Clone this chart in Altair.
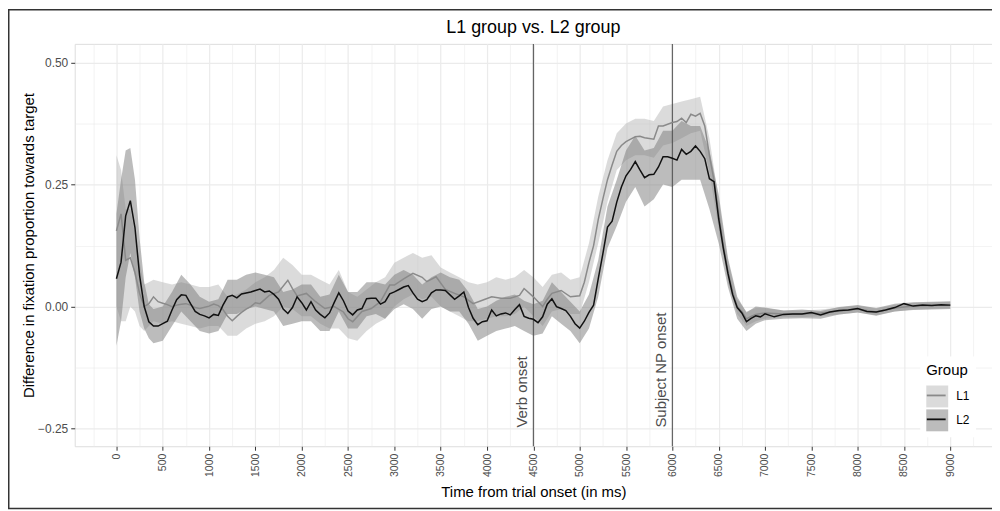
import altair as alt
import pandas as pd

TITLE = "L1 group vs. L2 group"
X_TITLE = "Time from trial onset (in ms)"
Y_TITLE = "Difference in fixation proportion towards target"
LEGEND_TITLE = "Group"
GROUPS = ["L1", "L2"]

ONSET_MS = [4500, 6000]
ONSET_LABELS = ["Verb onset", "Subject NP onset"]
ONSET_LABEL_Y = -0.25

X_DOMAIN = [-450, 9450]
Y_DOMAIN = [-0.2861, 0.5382]
X_TICKS = [-250, 0, 250, 500, 750, 1000, 1250, 1500, 1750, 2000, 2250, 2500, 2750, 3000,
           3250, 3500, 3750, 4000, 4250, 4500, 4750, 5000, 5250, 5500, 5750, 6000, 6250,
           6500, 6750, 7000, 7250, 7500, 7750, 8000, 8250, 8500, 8750, 9000, 9250]
Y_TICKS = [-0.25, -0.125, 0.0, 0.125, 0.25, 0.375, 0.5]

# ---- L2 mean (black line) ----
L2_T = [0, 50, 100, 150, 200, 250, 300, 350, 400, 450, 500, 550, 600, 650, 700, 750, 800, 850,
        900, 950, 1000, 1050, 1100, 1150, 1200, 1250, 1300, 1350, 1400, 1450, 1500, 1550, 1600,
        1650, 1700, 1750, 1800, 1850, 1900, 1950, 2000, 2050, 2100, 2150, 2200, 2250, 2300, 2350,
        2400, 2450, 2500, 2550, 2600, 2650, 2700, 2750, 2800, 2850, 2900, 2950, 3000, 3050, 3100,
        3150, 3200, 3250, 3300, 3350, 3400, 3450, 3500, 3550, 3600, 3650, 3700, 3750, 3800, 3850,
        3900, 3950, 4000, 4050, 4100, 4150, 4200, 4250, 4300, 4350, 4400, 4450, 4500, 4550, 4600,
        4650, 4700, 4750, 4800, 4850, 4900, 4950, 5000, 5050, 5100, 5150, 5200, 5250, 5300, 5350,
        5400, 5450, 5500, 5550, 5600, 5650, 5700, 5750, 5800, 5850, 5900, 5950, 6000, 6050, 6100,
        6150, 6200, 6250, 6300, 6350, 6400, 6450, 6500, 6550, 6600, 6650, 6700, 6750, 6800, 6850,
        6900, 6950, 7000, 7100, 7200, 7300, 7400, 7500, 7600, 7700, 7800, 7900, 8000, 8100, 8200,
        8300, 8400, 8500, 8600, 8700, 8800, 8900, 9000]
L2_Y = [0.057, 0.091, 0.186, 0.217, 0.162, 0.064, 0.0, -0.031, -0.04, -0.04, -0.035, -0.03, -0.007,
        0.014, 0.024, 0.023, 0.006, -0.01, -0.016, -0.019, -0.023, -0.016, -0.018, 0.003, 0.02,
        0.023, 0.018, 0.026, 0.028, 0.03, 0.033, 0.036, 0.03, 0.032, 0.025, 0.015, -0.005, -0.014,
        -0.002, 0.02, 0.008, -0.007, 0.01, -0.007, -0.016, -0.023, -0.013, 0.008, 0.028, 0.012,
        -0.009, -0.017, -0.007, -0.004, 0.016, 0.017, 0.017, 0.005, 0.01, 0.026, 0.03, 0.035, 0.04,
        0.043, 0.028, 0.015, 0.01, 0.014, 0.028, 0.034, 0.034, 0.033, 0.024, 0.015, 0.022, 0.03,
        -0.002, -0.024, -0.037, -0.031, -0.029, -0.007, -0.019, -0.015, -0.013, -0.017, -0.006,
        0.004, -0.02, -0.024, -0.026, -0.033, -0.021, 0.005, 0.016, 0.0, -0.004, -0.008, -0.02,
        -0.035, -0.044, -0.03, -0.012, 0.003, 0.057, 0.108, 0.163, 0.175, 0.214, 0.245, 0.268,
        0.281, 0.297, 0.28, 0.264, 0.27, 0.271, 0.286, 0.307, 0.307, 0.304, 0.3, 0.322, 0.312,
        0.318, 0.329, 0.318, 0.303, 0.262, 0.256, 0.18, 0.12, 0.068, 0.025, -0.002, -0.013, -0.031,
        -0.024, -0.019, -0.021, -0.015, -0.021, -0.016, -0.015, -0.015, -0.012, -0.017, -0.011,
        -0.008, -0.007, -0.004, -0.01, -0.011, -0.007, -0.002, 0.006, 0.001, 0.003, 0.002, 0.004,
        0.003]

# ---- L1 mean (grey line) ----
L1_T = [0, 50, 100, 150, 200, 250, 300, 350, 400, 450, 500, 550, 600, 650, 700, 750, 800, 850,
        900, 1000, 1050, 1100, 1150, 1200, 1250, 1300, 1350, 1400, 1450, 1500, 1550, 1650, 1750,
        1850, 1900, 1950, 2050, 2150, 2250, 2350, 2450, 2500, 2550, 2650, 2750, 2850, 2950, 3000,
        3100, 3200, 3300, 3350, 3450, 3550, 3650, 3750, 3850, 3950, 4050, 4150, 4250, 4350, 4400,
        4500, 4600, 4650, 4700, 4800, 4900, 5000, 5050, 5100, 5150, 5200, 5250, 5300, 5350, 5400,
        5450, 5500, 5550, 5600, 5650, 5700, 5800, 5850, 5900, 6000, 6050, 6100, 6150, 6200, 6250,
        6300, 6350, 6400, 6450, 6500, 6550, 6600, 6650, 6700, 6750, 6800, 6850, 6900, 7000, 7200,
        7400, 7600, 7800, 8000, 8200, 8400, 8600, 8800, 9000]
L1_Y = [0.155, 0.19, 0.095, 0.1, 0.07, 0.027, 0.0, 0.006, 0.02, 0.01, 0.007, 0.004, 0.0, 0.003,
        0.005, 0.006, 0.003, -0.002, -0.004, 0.001, 0.005, 0.002, -0.006, -0.02, -0.029, -0.02,
        -0.012, -0.005, 0.0, 0.008, 0.006, 0.023, 0.03, 0.054, 0.037, 0.022, 0.027, 0.01, -0.004,
        0.0, -0.011, -0.025, -0.031, -0.01, -0.004, 0.01, 0.044, 0.044, 0.057, 0.068, 0.06, 0.051,
        0.061, 0.035, 0.027, 0.02, 0.006, 0.013, 0.02, 0.017, 0.017, 0.023, 0.037, 0.02, 0.0,
        0.015, 0.027, 0.033, 0.02, 0.022, 0.05, 0.09, 0.125, 0.178, 0.22, 0.26, 0.29, 0.318, 0.33,
        0.338, 0.343, 0.348, 0.349, 0.346, 0.343, 0.37, 0.37, 0.377, 0.379, 0.386, 0.377, 0.394,
        0.39, 0.396, 0.37, 0.31, 0.258, 0.19, 0.125, 0.072, 0.03, 0.0, -0.01, -0.025, -0.02,
        -0.016, -0.013, -0.015, -0.015, -0.013, -0.009, -0.005, -0.011, -0.003, 0.001, 0.002,
        0.003]

# ---- confidence ribbons ----
BAND_T = [0, 50, 100, 150, 200, 250, 300, 350, 400, 500, 600, 700, 800, 900, 1000, 1100, 1200,
          1300, 1400, 1500, 1600, 1700, 1800, 1900, 2000, 2100, 2200, 2300, 2400, 2500, 2600,
          2700, 2800, 2900, 3000, 3100, 3200, 3300, 3400, 3500, 3600, 3700, 3800, 3900, 4000,
          4100, 4200, 4300, 4400, 4500, 4600, 4700, 4800, 4900, 5000, 5100, 5200, 5300, 5400,
          5500, 5600, 5700, 5800, 5900, 6000, 6100, 6200, 6300, 6400, 6500, 6600, 6700, 6800,
          6900, 7000, 7200, 7400, 7600, 7800, 8000, 8200, 8400, 8600, 8800, 9000]
L1_LO = [0.0, -0.03, -0.03, 0.0, -0.01, -0.04, -0.05, -0.04, -0.03, -0.035, -0.03, -0.035, -0.04,
         -0.045, -0.04, -0.04, -0.06, -0.06, -0.045, -0.035, -0.03, -0.02, 0.0, -0.005, -0.02,
         -0.02, -0.035, -0.045, -0.045, -0.065, -0.07, -0.05, -0.035, -0.025, 0.0, 0.015, 0.025,
         0.015, 0.02, 0.0, -0.01, -0.02, -0.03, -0.03, -0.025, -0.02, -0.02, -0.015, 0.0, -0.02,
         -0.04, -0.01, -0.005, -0.015, -0.015, 0.05, 0.13, 0.215, 0.28, 0.3, 0.31, 0.31, 0.305,
         0.33, 0.335, 0.345, 0.355, 0.36, 0.275, 0.16, 0.05, -0.015, -0.04, -0.03, -0.025,
         -0.022, -0.022, -0.02, -0.016, -0.012, -0.018, -0.01, -0.006, -0.005, -0.004]
L1_HI = [0.31, 0.28, 0.2, 0.2, 0.15, 0.09, 0.045, 0.05, 0.055, 0.05, 0.045, 0.05, 0.045, 0.04,
         0.04, 0.045, 0.02, 0.025, 0.035, 0.05, 0.06, 0.075, 0.1, 0.085, 0.065, 0.065, 0.055,
         0.045, 0.075, 0.03, 0.02, 0.035, 0.05, 0.06, 0.09, 0.1, 0.11, 0.1, 0.105, 0.08, 0.07,
         0.06, 0.05, 0.045, 0.05, 0.06, 0.055, 0.06, 0.075, 0.06, 0.04, 0.065, 0.07, 0.055, 0.06,
         0.13, 0.225, 0.3, 0.355, 0.375, 0.385, 0.385, 0.38, 0.41, 0.415, 0.42, 0.425, 0.43,
         0.345, 0.22, 0.095, 0.015, -0.01, -0.003, -0.003, -0.008, -0.008, -0.006, -0.002, 0.002,
         -0.004, 0.004, 0.008, 0.009, 0.01]
L2_LO = [-0.08, -0.03, 0.06, 0.11, 0.06, -0.01, -0.045, -0.065, -0.075, -0.07, -0.04, -0.01,
         -0.03, -0.05, -0.055, -0.05, -0.015, -0.015, -0.005, 0.0, -0.005, -0.01, -0.04, -0.035,
         -0.03, -0.03, -0.05, -0.05, -0.01, -0.045, -0.045, -0.02, -0.015, -0.025, -0.005, 0.005,
         -0.005, -0.025, -0.005, 0.0, -0.01, -0.01, -0.035, -0.07, -0.06, -0.05, -0.045, -0.04,
         -0.05, -0.06, -0.055, -0.02, -0.035, -0.05, -0.075, -0.045, 0.02, 0.12, 0.165, 0.215,
         0.245, 0.205, 0.22, 0.25, 0.245, 0.26, 0.26, 0.26, 0.2, 0.13, 0.04, -0.025, -0.05,
         -0.035, -0.028, -0.025, -0.024, -0.025, -0.016, -0.012, -0.019, -0.01, -0.007, -0.006,
         -0.005]
L2_HI = [0.19, 0.26, 0.32, 0.325, 0.26, 0.14, 0.05, 0.005, -0.005, 0.0, 0.03, 0.065, 0.045, 0.02,
         0.01, 0.015, 0.055, 0.055, 0.065, 0.07, 0.065, 0.06, 0.03, 0.035, 0.045, 0.045, 0.02,
         0.025, 0.065, 0.03, 0.03, 0.05, 0.05, 0.045, 0.065, 0.075, 0.065, 0.045, 0.06, 0.07, 0.06,
         0.055, 0.03, -0.005, 0.0, 0.012, 0.02, 0.025, 0.012, 0.005, 0.012, 0.05, 0.03, 0.01,
         -0.01, 0.025, 0.095, 0.205, 0.26, 0.32, 0.35, 0.32, 0.325, 0.36, 0.36, 0.38, 0.37, 0.37,
         0.32, 0.23, 0.1, 0.02, -0.012, 0.0, -0.002, -0.008, -0.006, -0.009, -0.001, 0.003,
         -0.003, 0.006, 0.009, 0.01, 0.011]

FONT = "Liberation Sans"

lines = pd.concat([
    pd.DataFrame({"t": L1_T, "v": L1_Y, "Group": GROUPS[0]}),
    pd.DataFrame({"t": L2_T, "v": L2_Y, "Group": GROUPS[1]}),
])
bands = pd.concat([
    pd.DataFrame({"t": BAND_T, "lo": L1_LO, "hi": L1_HI, "Band": GROUPS[0]}),
    pd.DataFrame({"t": BAND_T, "lo": L2_LO, "hi": L2_HI, "Band": GROUPS[1]}),
])
onsets = pd.DataFrame({"t": ONSET_MS, "label": ONSET_LABELS, "ly": ONSET_LABEL_Y})

major_x = "datum.value % 500 === 0"
major_y = "abs(datum.value * 4 - round(datum.value * 4)) < 0.000001"

x_scale = alt.Scale(domain=X_DOMAIN, nice=False, zero=False)
y_scale = alt.Scale(domain=Y_DOMAIN, nice=False, zero=False)

x_axis = alt.Axis(
    values=X_TICKS, format="d", labelExpr=f"{major_x} ? datum.label : ''",
    labelAngle=270, labelFontSize=10.5, labelColor="#4d4d4d", labelFont=FONT,
    labelOverlap=False, labelFlush=False, labelPadding=3,
    tickColor="#333333", tickSize=4,
    tickOpacity={"condition": {"test": major_x, "value": 1}, "value": 0},
    gridColor="#ebebeb",
    gridWidth={"condition": {"test": major_x, "value": 1.2}, "value": 0.6},
    domain=False, title=X_TITLE, titleFont=FONT, titleFontSize=15,
    titleFontWeight="normal", titleColor="#000000", titlePadding=8,
)
y_axis = alt.Axis(
    values=Y_TICKS, format=".2f", labelExpr=f"{major_y} ? datum.label : ''",
    labelFontSize=12, labelColor="#4d4d4d", labelFont=FONT, labelOverlap=False,
    labelFlush=False, labelPadding=3,
    tickColor="#333333", tickSize=4,
    tickOpacity={"condition": {"test": major_y, "value": 1}, "value": 0},
    gridColor="#ebebeb",
    gridWidth={"condition": {"test": major_y, "value": 1.2}, "value": 0.6},
    domain=False, title=Y_TITLE, titleFont=FONT, titleFontSize=15,
    titleFontWeight="normal", titleColor="#000000", titlePadding=1,
)

def X(field):
    return alt.X(f"{field}:Q", scale=x_scale, axis=x_axis)

def Y(field):
    return alt.Y(f"{field}:Q", scale=y_scale, axis=y_axis)

legend_common = dict(
    title=LEGEND_TITLE, orient="none", legendX=849, legendY=314, padding=6,
    titlePadding=8, labelOffset=8,
    titleFont=FONT, titleFontSize=15, titleFontWeight="normal", titleColor="#000000",
    labelFont=FONT, labelFontSize=12, labelColor="#000000",
)

band_layer = alt.Chart(bands).mark_area(opacity=0.5, interpolate="linear").encode(
    x=X("t"), y=Y("lo"), y2="hi:Q",
    fill=alt.Fill("Band:N", scale=alt.Scale(range=["#b8b8b8", "#7a7a7a"]),
                  legend=alt.Legend(symbolType="square", symbolSize=484, symbolOpacity=0.5,
                                    symbolStrokeWidth=0, fillColor="#ffffff", rowPadding=2,
                                    **legend_common)),
)

rule_layer = alt.Chart(onsets).mark_rule(color="#555555", strokeWidth=1.1).encode(x=X("t"))

text_layer = alt.Chart(onsets).mark_text(
    angle=270, align="left", baseline="alphabetic", dy=-6, dx=1,
    font=FONT, fontSize=15, color="#4d4d4d",
).encode(x=X("t"), y=Y("ly"), text="label:N")

line_layer = alt.Chart(lines).mark_line(strokeWidth=1.5, interpolate="linear").encode(
    x=X("t"), y=Y("v"),
    stroke=alt.Stroke("Group:N", scale=alt.Scale(range=["#8a8a8a", "#111111"]),
                      legend=alt.Legend(symbolType="M-1,-1M1,1M-1.05,0H1.05", symbolSize=324,
                                        symbolStrokeWidth=1.8, titleOpacity=0, rowPadding=-2,
                                        labelExpr="''", **legend_common)),
    detail="Group:N",
)

frame_layer = alt.Chart(pd.DataFrame({"k": [0]})).mark_rect(
    fillOpacity=0, stroke="#333333", strokeWidth=1.5,
).encode(x=alt.value(-66.25), x2=alt.value(940), y=alt.value(-34.25), y2=alt.value(466.5))

chart = alt.layer(band_layer, rule_layer, text_layer, line_layer, frame_layer).properties(
    width=921, height=404,
    title=alt.TitleParams(TITLE, font=FONT, fontSize=18, fontWeight="normal", color="#000000",
                          anchor="middle", frame="group", offset=8, dy=36),
    padding={"left": 67, "top": 35, "right": 0, "bottom": 64},
    autosize=alt.AutoSizeParams(type="none"),
).configure_view(stroke="#7a7a7a", strokeWidth=1).configure(background="#ffffff")

chart.save("out.html", embed_options={"renderer": "svg", "actions": False})
